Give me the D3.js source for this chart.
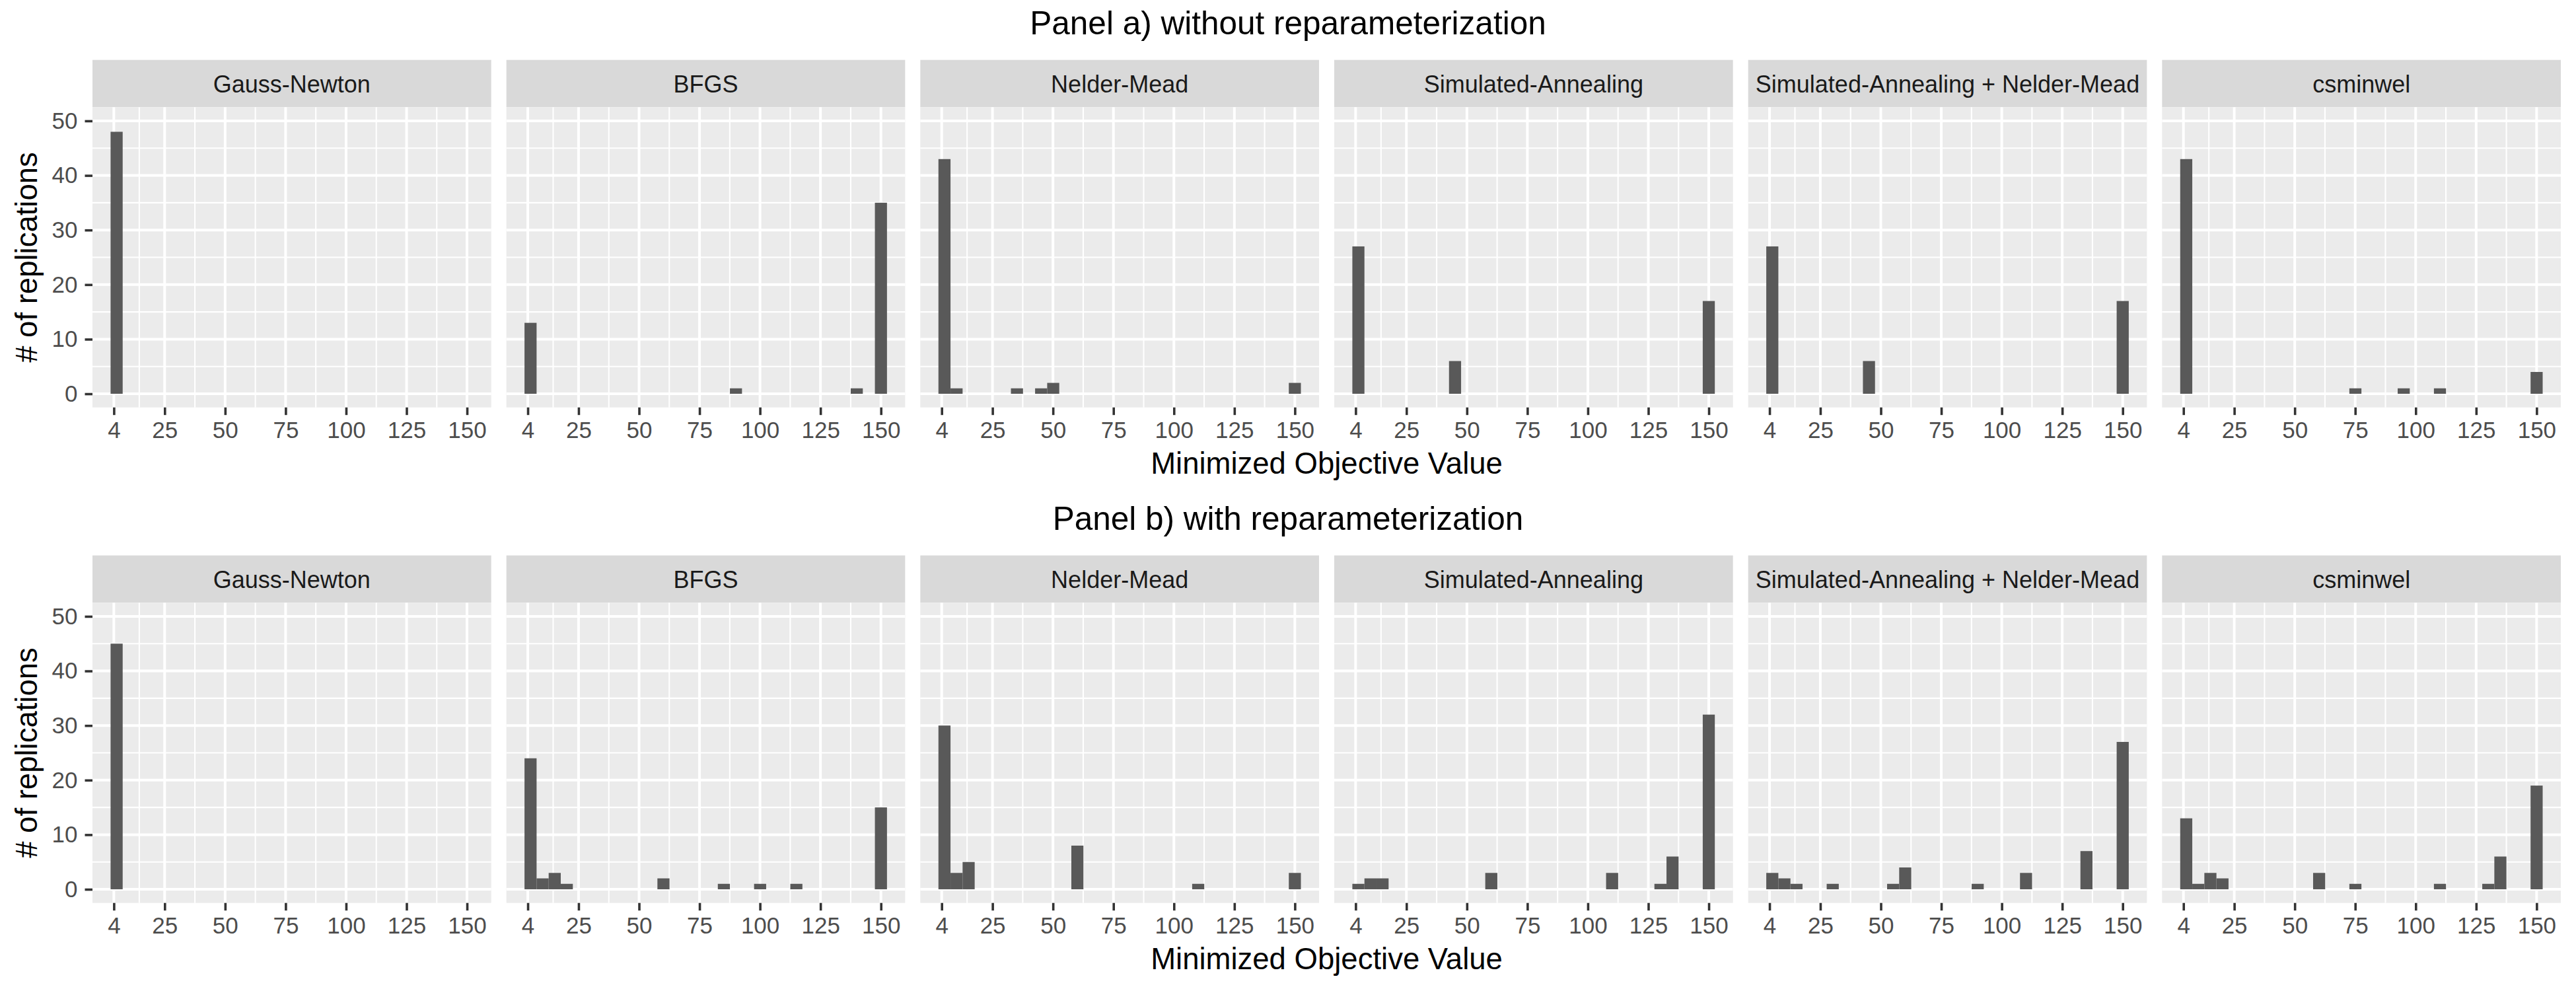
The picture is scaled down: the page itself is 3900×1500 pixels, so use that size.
<!DOCTYPE html>
<html>
<head>
<meta charset="utf-8">
<script src="https://cdn.jsdelivr.net/npm/d3@7"></script>
<style>
  html, body { margin: 0; padding: 0; background: #ffffff; }
  svg { display: block; }
  text { font-family: "Liberation Sans", Arial, Helvetica, sans-serif; }
</style>
</head>
<body>
<svg id="chart" width="3900" height="1500"></svg>
<script>
// ---------------- data ----------------
const methods = ["Gauss-Newton", "BFGS", "Nelder-Mead", "Simulated-Annealing",
                 "Simulated-Annealing + Nelder-Mead", "csminwel"];
const panelTitles = ["Panel a) without reparameterization", "Panel b) with reparameterization"];
const xTickValues = [4, 25, 50, 75, 100, 125, 150];
const yTickValues = [0, 10, 20, 30, 40, 50];
const xMinorValues = [14.5, 37.5, 62.5, 87.5, 112.5, 137.5];
const yMinorValues = [5, 15, 25, 35, 45];
const xAxisTitle = "Minimized Objective Value";
const yAxisTitle = "# of replications";

// histogram bins (30 bins, shared x scale)
const binStart = 2.65;
const binWidth = 4.995;

// counts per bin (index 0..29), panel a) without reparameterization
const countsA_GaussNewton = [48,0,0,0,0,0,0,0,0,0, 0,0,0,0,0,0,0,0,0,0, 0,0,0,0,0,0,0,0,0,0];
const countsA_BFGS        = [13,0,0,0,0,0,0,0,0,0, 0,0,0,0,0,0,0,1,0,0, 0,0,0,0,0,0,0,1,0,35];
const countsA_NelderMead  = [43,1,0,0,0,0,1,0,1,2, 0,0,0,0,0,0,0,0,0,0, 0,0,0,0,0,0,0,0,0,2];
const countsA_SimAnneal   = [27,0,0,0,0,0,0,0,6,0, 0,0,0,0,0,0,0,0,0,0, 0,0,0,0,0,0,0,0,0,17];
const countsA_SimAnnealNM = [27,0,0,0,0,0,0,0,6,0, 0,0,0,0,0,0,0,0,0,0, 0,0,0,0,0,0,0,0,0,17];
const countsA_csminwel    = [43,0,0,0,0,0,0,0,0,0, 0,0,0,0,1,0,0,0,1,0, 0,1,0,0,0,0,0,0,0,4];

// panel b) with reparameterization
const countsB_GaussNewton = [45,0,0,0,0,0,0,0,0,0, 0,0,0,0,0,0,0,0,0,0, 0,0,0,0,0,0,0,0,0,0];
const countsB_BFGS        = [24,2,3,1,0,0,0,0,0,0, 0,2,0,0,0,0,1,0,0,1, 0,0,1,0,0,0,0,0,0,15];
const countsB_NelderMead  = [30,3,5,0,0,0,0,0,0,0, 0,8,0,0,0,0,0,0,0,0, 0,1,0,0,0,0,0,0,0,3];
const countsB_SimAnneal   = [1,2,2,0,0,0,0,0,0,0, 0,3,0,0,0,0,0,0,0,0, 0,3,0,0,0,1,6,0,0,32];
const countsB_SimAnnealNM = [3,2,1,0,0,1,0,0,0,0, 1,4,0,0,0,0,0,1,0,0, 0,3,0,0,0,0,7,0,0,27];
const countsB_csminwel    = [13,1,3,2,0,0,0,0,0,0, 0,3,0,0,1,0,0,0,0,0, 0,1,0,0,0,1,6,0,0,19];

const panelCounts = [
  [countsA_GaussNewton, countsA_BFGS, countsA_NelderMead, countsA_SimAnneal, countsA_SimAnnealNM, countsA_csminwel],
  [countsB_GaussNewton, countsB_BFGS, countsB_NelderMead, countsB_SimAnneal, countsB_SimAnnealNM, countsB_csminwel]
];

// ---------------- layout ----------------
const W = 3900, rowH = 750;
const plotLeft = 140, plotRight = 3877, gap = 23;
const nF = methods.length;
const pw = (plotRight - plotLeft - gap * (nF - 1)) / nF;
const stripTop = 90.7, panelTop = 162.3, panelBottom = 616.7;
const ph = panelBottom - panelTop;
const majorW = 4.0, minorW = 2.1, tickW = 3.6;

const x = d3.scaleLinear().domain([-4.84, 160.0]).range([0, pw]);
const y = d3.scaleLinear().domain([-2.5, 52.5]).range([ph, 0]);

const svg = d3.select("#chart");
svg.append("rect").attr("width", W).attr("height", 1500).attr("fill", "#ffffff");

panelTitles.forEach((title, r) => {
  const row = svg.append("g").attr("transform", `translate(0,${r * rowH})`);

  row.append("text")
    .attr("x", W / 2).attr("y", 52.3)
    .attr("text-anchor", "middle")
    .attr("font-size", 49.5)
    .attr("fill", "#000000")
    .text(title);

  methods.forEach((m, f) => {
    const px = plotLeft + f * (pw + gap);
    const g = row.append("g").attr("transform", `translate(${px},0)`);

    // strip
    g.append("rect")
      .attr("x", 0).attr("y", stripTop)
      .attr("width", pw).attr("height", panelTop - stripTop)
      .attr("fill", "#D9D9D9");
    g.append("text")
      .attr("x", pw / 2).attr("y", 140)
      .attr("text-anchor", "middle")
      .attr("font-size", 36)
      .attr("fill", "#1A1A1A")
      .text(m);

    const p = g.append("g").attr("transform", `translate(0,${panelTop})`);
    p.append("rect").attr("width", pw).attr("height", ph).attr("fill", "#EBEBEB");

    // minor grid
    p.selectAll("line.yminor").data(yMinorValues).join("line")
      .attr("x1", 0).attr("x2", pw)
      .attr("y1", d => y(d)).attr("y2", d => y(d))
      .attr("stroke", "#ffffff").attr("stroke-width", minorW);
    p.selectAll("line.xminor").data(xMinorValues).join("line")
      .attr("y1", 0).attr("y2", ph)
      .attr("x1", d => x(d)).attr("x2", d => x(d))
      .attr("stroke", "#ffffff").attr("stroke-width", minorW);
    // major grid
    p.selectAll("line.ymajor").data(yTickValues).join("line")
      .attr("x1", 0).attr("x2", pw)
      .attr("y1", d => y(d)).attr("y2", d => y(d))
      .attr("stroke", "#ffffff").attr("stroke-width", majorW);
    p.selectAll("line.xmajor").data(xTickValues).join("line")
      .attr("y1", 0).attr("y2", ph)
      .attr("x1", d => x(d)).attr("x2", d => x(d))
      .attr("stroke", "#ffffff").attr("stroke-width", majorW);

    // bars
    const counts = panelCounts[r][f];
    const bins = counts.map((c, i) => ({ x0: binStart + i * binWidth, x1: binStart + (i + 1) * binWidth, c }))
                       .filter(d => d.c > 0);
    p.selectAll("rect.bar").data(bins).join("rect")
      .attr("class", "bar")
      .attr("x", d => x(d.x0))
      .attr("width", d => x(d.x1) - x(d.x0))
      .attr("y", d => y(d.c))
      .attr("height", d => y(0) - y(d.c))
      .attr("fill", "#595959");

    // x axis
    const xa = p.append("g").attr("transform", `translate(0,${ph})`)
      .call(d3.axisBottom(x).tickValues(xTickValues).tickSize(11.5).tickPadding(10.2));
    xa.select(".domain").remove();
    xa.selectAll(".tick line").attr("stroke", "#333333").attr("stroke-width", tickW);
    xa.selectAll(".tick text").attr("fill", "#4D4D4D").attr("font-size", 35)
      .attr("font-family", "'Liberation Sans', Arial, sans-serif");

    if (f === 0) {
      const ya = p.append("g")
        .call(d3.axisLeft(y).tickValues(yTickValues).tickSize(11.5).tickPadding(11));
      ya.select(".domain").remove();
      ya.selectAll(".tick line").attr("stroke", "#333333").attr("stroke-width", tickW);
      ya.selectAll(".tick text").attr("fill", "#4D4D4D").attr("font-size", 35)
        .attr("font-family", "'Liberation Sans', Arial, sans-serif");
    }
  });

  // axis titles
  row.append("text")
    .attr("x", (plotLeft + plotRight) / 2).attr("y", 716.5)
    .attr("text-anchor", "middle")
    .attr("font-size", 45.5)
    .attr("fill", "#000000")
    .text(xAxisTitle);

  row.append("text")
    .attr("transform", `translate(56,${(panelTop + panelBottom) / 2}) rotate(-90)`)
    .attr("text-anchor", "middle")
    .attr("font-size", 45.5)
    .attr("fill", "#000000")
    .text(yAxisTitle);
});
</script>
</body>
</html>
